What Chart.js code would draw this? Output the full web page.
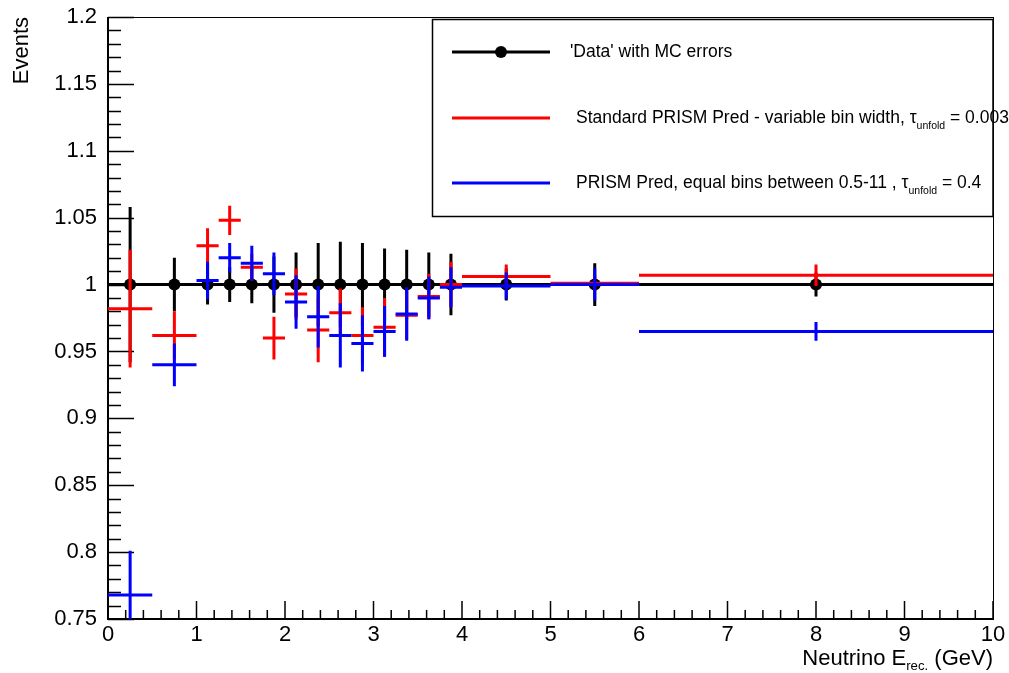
<!DOCTYPE html>
<html>
<head>
<meta charset="utf-8">
<script src="https://cdn.jsdelivr.net/npm/chart.js@4.4.0/dist/chart.umd.min.js"></script>
<style>
  body { margin: 0; background: #fff; }
</style>
</head>
<body>
<canvas id="myChart" width="1009" height="673"></canvas>
<script>
// bins in reconstructed neutrino energy (GeV)
const binLow = [0, 0.5, 1, 1.25, 1.5, 1.75, 2, 2.25, 2.5, 2.75, 3, 3.25, 3.5, 3.75, 4, 5, 6];
const binHigh = [0.5, 1, 1.25, 1.5, 1.75, 2, 2.25, 2.5, 2.75, 3, 3.25, 3.5, 3.75, 4, 5, 6, 10];

// 'Data' with MC errors
const dataValues = [1, 1, 1, 1, 1, 1, 1, 1, 1, 1, 1, 1, 1, 1, 1, 1, 1];
const dataErrors = [0.058, 0.020, 0.015, 0.013, 0.014, 0.021, 0.024, 0.031, 0.032, 0.031, 0.027, 0.026, 0.024, 0.023, 0.012, 0.016, 0.009];

// Standard PRISM prediction, variable bin width
const stdValues = [0.982, 0.962, 1.029, 1.048, 1.013, 0.960, 0.993, 0.966, 0.979, 0.962, 0.968, 0.977, 0.991, 1.000, 1.006, 1.001, 1.007];
const stdErrors = [0.044, 0.018, 0.013, 0.011, 0.010, 0.016, 0.019, 0.024, 0.018, 0.021, 0.022, 0.018, 0.017, 0.017, 0.009, 0.006, 0.008];

// PRISM prediction, equal bins between 0.5-11
const eqValues = [0.768, 0.940, 1.003, 1.020, 1.016, 1.008, 0.987, 0.976, 0.962, 0.956, 0.965, 0.978, 0.990, 0.998, 0.999, 1.000, 0.965];
const eqErrors = [0.033, 0.016, 0.014, 0.011, 0.013, 0.016, 0.020, 0.023, 0.024, 0.021, 0.019, 0.020, 0.016, 0.015, 0.010, 0.012, 0.007];

// axes
const xTickValues = [0, 1, 2, 3, 4, 5, 6, 7, 8, 9, 10];
const yTickValues = [0.75, 0.8, 0.85, 0.9, 0.95, 1, 1.05, 1.1, 1.15, 1.2];

const FONT = "'Liberation Sans', Arial, Helvetica, sans-serif";

// each bin -> horizontal bar over the bin + vertical error bar, separated by gaps
function errorBars(values, errors) {
  const pts = [];
  for (let i = 0; i < values.length; i++) {
    const mid = (binLow[i] + binHigh[i]) / 2;
    pts.push({ x: binLow[i], y: values[i] });
    pts.push({ x: binHigh[i], y: values[i] });
    pts.push({ x: binHigh[i], y: null });
    pts.push({ x: mid, y: values[i] - errors[i] });
    pts.push({ x: mid, y: values[i] + errors[i] });
    pts.push({ x: mid, y: null });
  }
  return pts;
}

function centers(values) {
  return values.map((v, i) => ({ x: (binLow[i] + binHigh[i]) / 2, y: v }));
}

// ROOT style frame with inward major / minor ticks
const framePlugin = {
  id: "frame",
  beforeDatasetsDraw(chart) {
    const { ctx, chartArea: a, scales } = chart;
    ctx.save();
    ctx.strokeStyle = "#000";
    ctx.lineWidth = 1;
    ctx.strokeRect(a.left + 0.5, a.top + 0.5, a.right - a.left, a.bottom - a.top);
    ctx.lineWidth = 1.5;
    ctx.beginPath();
    for (let k = 0; k <= 50; k++) {
      const v = k * 0.2;
      const px = scales.x.getPixelForValue(v);
      const len = k % 5 === 0 ? 18 : 9;
      ctx.moveTo(px, a.bottom);
      ctx.lineTo(px, a.bottom - len);
    }
    for (let k = 0; k <= 45; k++) {
      const v = 0.75 + k * 0.01;
      const py = Math.round(scales.y.getPixelForValue(v)) + 0.5;
      const len = k % 5 === 0 ? 26 : 13;
      ctx.moveTo(a.left, py);
      ctx.lineTo(a.left + len, py);
    }
    ctx.stroke();
    ctx.lineWidth = 2;
    ctx.beginPath();
    ctx.moveTo(a.left, a.top);
    ctx.lineTo(a.left, a.bottom);
    ctx.lineTo(a.right, a.bottom);
    ctx.stroke();
    ctx.restore();
  },
};

// text with a subscript piece, drawn left to right
function drawSubText(ctx, parts, x, y, size, drop) {
  let cx = x;
  parts.forEach((p) => {
    const s = p.sub ? size * 0.6 : size;
    ctx.font = s + "px " + FONT;
    ctx.fillText(p.t, cx, p.sub ? y + drop : y);
    cx += ctx.measureText(p.t).width;
  });
  return cx;
}

function subTextWidth(ctx, parts, size) {
  let w = 0;
  parts.forEach((p) => {
    ctx.font = (p.sub ? size * 0.6 : size) + "px " + FONT;
    w += ctx.measureText(p.t).width;
  });
  return w;
}

const legendEntries = [
  { color: "#000", marker: true, parts: [{ t: "'Data' with MC errors" }], tx: 570 },
  { color: "#ff0000", marker: false, parts: [{ t: "Standard PRISM Pred - variable bin width, \u03c4" }, { t: "unfold", sub: true }, { t: " = 0.003" }], tx: 576 },
  { color: "#0000ff", marker: false, parts: [{ t: "PRISM Pred, equal bins between 0.5-11 , \u03c4" }, { t: "unfold", sub: true }, { t: " = 0.4" }], tx: 576 },
];

const annotatePlugin = {
  id: "annotate",
  afterDraw(chart) {
    const { ctx, chartArea: a } = chart;
    ctx.save();
    // x axis title
    ctx.fillStyle = "#000";
    ctx.textBaseline = "alphabetic";
    const xt = [{ t: "Neutrino E" }, { t: "rec.", sub: true }, { t: " (GeV)" }];
    const w = subTextWidth(ctx, xt, 22);
    drawSubText(ctx, xt, a.right - w, 665, 22, 5);

    // legend box
    ctx.fillStyle = "#fff";
    ctx.fillRect(432, 19, a.right - 432, 198);
    ctx.strokeStyle = "#000";
    ctx.lineWidth = 1.5;
    ctx.strokeRect(432.5, 19.5, a.right - 432.5, 197);
    const rows = [52, 118, 183];
    legendEntries.forEach((e, i) => {
      const y = rows[i];
      ctx.strokeStyle = e.color;
      ctx.lineWidth = 3;
      ctx.beginPath();
      ctx.moveTo(452, y);
      ctx.lineTo(550, y);
      ctx.stroke();
      if (e.marker) {
        ctx.fillStyle = "#000";
        ctx.beginPath();
        ctx.arc(501, y, 6, 0, Math.PI * 2);
        ctx.fill();
      }
      ctx.fillStyle = "#000";
      ctx.textBaseline = "middle";
      drawSubText(ctx, e.parts, e.tx, y, 17.5, 8);
    });
    ctx.restore();
  },
};

function chart() {
  const ctx = document.getElementById("myChart");
  new Chart(ctx, {
    type: "line",
    data: {
      datasets: [
        {
          label: "PRISM Pred, equal bins",
          data: errorBars(eqValues, eqErrors),
          borderColor: "#0000ff",
          borderWidth: 3,
          pointRadius: 0,
          order: 0,
        },
        {
          label: "Standard PRISM Pred",
          data: errorBars(stdValues, stdErrors),
          borderColor: "#ff0000",
          borderWidth: 3,
          pointRadius: 0,
          order: 1,
        },
        {
          label: "'Data' markers",
          data: centers(dataValues),
          showLine: false,
          pointRadius: 6,
          pointBackgroundColor: "#000",
          pointBorderColor: "#000",
          pointBorderWidth: 0,
          order: 2,
        },
        {
          label: "'Data' with MC errors",
          data: errorBars(dataValues, dataErrors),
          borderColor: "#000",
          borderWidth: 3,
          pointRadius: 0,
          order: 3,
        },
      ],
    },
    options: {
      responsive: false,
      animation: false,
      layout: { padding: { left: 8, right: 16, top: 17, bottom: 0 } },
      plugins: { legend: { display: false }, tooltip: { enabled: false } },
      elements: { line: { borderCapStyle: "butt", tension: 0 } },
      scales: {
        x: {
          type: "linear",
          min: 0,
          max: 10,
          grid: { display: false },
          border: { display: false },
          afterBuildTicks: (s) => { s.ticks = xTickValues.map((v) => ({ value: v })); },
          afterFit: (s) => { s.height = 54; },
          ticks: {
            autoSkip: false,
            maxRotation: 0,
            padding: -5,
            color: "#000",
            font: { family: FONT, size: 22 },
            callback: (v) => String(v),
          },
        },
        y: {
          min: 0.75,
          max: 1.2,
          grid: { display: false },
          border: { display: false },
          afterBuildTicks: (s) => { s.ticks = yTickValues.map((v) => ({ value: v })); },
          afterFit: (s) => { s.width = 100; },
          title: {
            display: true,
            text: "Events",
            align: "end",
            color: "#000",
            font: { family: FONT, size: 22 },
            padding: { top: 1, bottom: 0 },
          },
          ticks: {
            padding: 3,
            color: "#000",
            font: { family: FONT, size: 22 },
            callback: (v) => String(+v.toFixed(2)),
          },
        },
      },
    },
    plugins: [framePlugin, annotatePlugin],
  });
}

document.addEventListener("DOMContentLoaded", chart);
</script>
</body>
</html>
